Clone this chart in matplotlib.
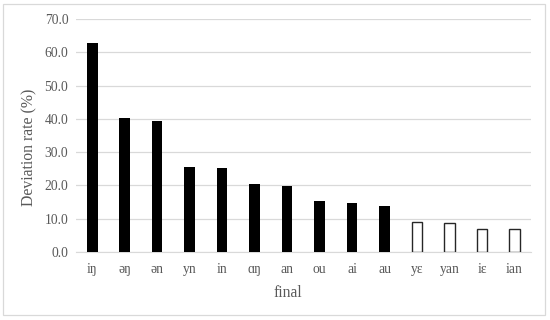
import matplotlib
matplotlib.use('Agg')
import matplotlib.pyplot as plt
from matplotlib.patches import Rectangle

plt.rcParams['font.family'] = ['Liberation Serif', 'DejaVu Serif']

finals = ["iŋ", "əŋ", "ən", "yn", "in", "ɑŋ", "an", "ou", "ai", "au", "yɛ", "yan", "iɛ", "ian"]
rates = [62.9, 40.3, 39.5, 25.4, 25.1, 20.4, 19.8, 15.4, 14.6, 13.7, 9.1, 8.6, 7.0, 6.9]
filled = [True] * 10 + [False] * 4

gray = '#595959'

fig = plt.figure(figsize=(5.5, 3.2), dpi=100)
ax = fig.add_axes([0.138, 0.2125, 0.827, 0.728])

x = range(len(finals))
for i, v in enumerate(rates):
    if filled[i]:
        ax.bar(i, v, width=0.33, color='black', zorder=3)
    else:
        ax.bar(i, v, width=0.33, facecolor='white', edgecolor='#262626', linewidth=1.0, zorder=3)

ax.set_xlim(-0.5, len(finals) - 0.5)
ax.set_ylim(0, 70)
ax.set_yticks(range(0, 71, 10))
ax.set_yticklabels(['%.1f' % t for t in range(0, 71, 10)])
ax.set_xticks(list(x))
ax.set_xticklabels(finals)
ax.yaxis.grid(True, color='#d9d9d9', linewidth=0.9, zorder=0)
ax.set_axisbelow(True)
for s in ['top', 'right', 'left']:
    ax.spines[s].set_visible(False)
ax.spines['bottom'].set_color('#d9d9d9')
ax.tick_params(axis='both', length=0, labelsize=9.8, colors=gray, pad=8)
ax.tick_params(axis='y', pad=5.5)

ax.set_xlabel('final', fontsize=11.3, color=gray)
ax.set_ylabel('Deviation rate (%)', fontsize=11.3, color=gray)
ax.xaxis.set_label_coords(0.466, -0.142)
ax.yaxis.set_label_coords(-0.085, 0.45)

fig.patches.append(Rectangle((3 / 550, 1 - 315 / 320), 542 / 550, 311 / 320,
                             transform=fig.transFigure, fill=False,
                             edgecolor='#d9d9d9', linewidth=0.9))

fig.savefig('out.png', dpi=100)
